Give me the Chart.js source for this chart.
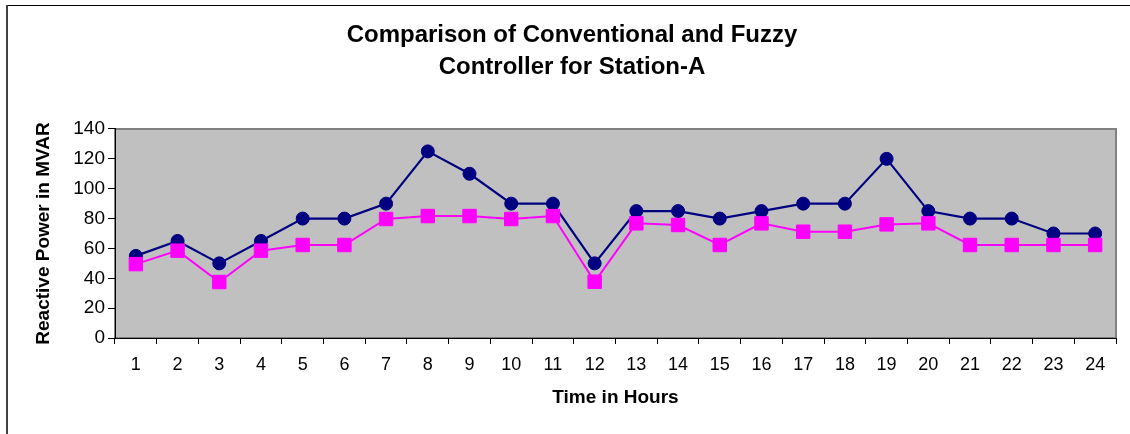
<!DOCTYPE html>
<html>
<head>
<meta charset="utf-8">
<script src="https://cdn.jsdelivr.net/npm/chart.js@4/dist/chart.umd.min.js"></script>
<style>
  html, body { margin: 0; padding: 0; background: #fff; }
  canvas { display: block; }
</style>
</head>
<body>
<canvas id="c" width="1130" height="434"></canvas>
<script>
const hours = ['1','2','3','4','5','6','7','8','9','10','11','12','13','14','15','16','17','18','19','20','21','22','23','24'];
const conventional = [55, 65, 50, 65, 80, 80, 90, 125, 110, 90, 90, 50, 85, 85, 80, 85, 90, 90, 120, 85, 80, 80, 70, 70];
const fuzzy = [49.5, 58.5, 37.5, 58.5, 62.3, 62.3, 79.7, 81.7, 81.7, 79.7, 81.7, 37.7, 76.8, 75.7, 62.3, 76.8, 71.2, 71.2, 76.1, 76.8, 62.3, 62.3, 62.3, 62.3];
const titleLines = ['Comparison of Conventional and Fuzzy', 'Controller for Station-A'];
const xTitle = 'Time in Hours';
const yTitle = 'Reactive Power in MVAR';

const FONT = "'Liberation Sans', Arial, sans-serif";

const framePlugin = {
  id: 'frame',
  afterLayout(chart) {
    if (chart.titleBlock) {
      chart.titleBlock.left += 10;
      chart.titleBlock.right += 10;
    }
  },
  beforeDraw(chart) {
    const ctx = chart.ctx;
    const a = chart.chartArea;
    ctx.save();
    ctx.fillStyle = '#ffffff';
    ctx.fillRect(0, 0, chart.width, chart.height);
    // outer frame
    ctx.fillStyle = '#000000';
    ctx.fillRect(6, 5, chart.width - 6, 1);
    ctx.fillStyle = '#404040';
    ctx.fillRect(6, 5, 2, chart.height - 5);
    // plot area
    ctx.fillStyle = '#c0c0c0';
    ctx.fillRect(a.left, a.top, a.right - a.left, a.bottom - a.top);
    ctx.strokeStyle = '#808080';
    ctx.lineWidth = 2;
    ctx.strokeRect(a.left, a.top, a.right - a.left, a.bottom - a.top);
    ctx.restore();
  }
};

new Chart(document.getElementById('c'), {
  type: 'line',
  data: {
    labels: hours,
    datasets: [
      {
        label: 'Conventional',
        data: conventional,
        borderColor: '#000080',
        backgroundColor: '#000080',
        borderWidth: 2.2,
        pointStyle: 'circle',
        pointRadius: 6.5,
        pointBorderWidth: 1,
        pointBackgroundColor: '#000080',
        pointBorderColor: '#000080',
        tension: 0,
        order: 1
      },
      {
        label: 'Fuzzy',
        data: fuzzy,
        borderColor: '#ff00ff',
        backgroundColor: '#ff00ff',
        borderWidth: 2,
        pointStyle: 'rect',
        pointRadius: 9.5,
        pointBorderWidth: 1,
        pointBackgroundColor: '#ff00ff',
        pointBorderColor: '#ff00ff',
        tension: 0,
        order: 0
      }
    ]
  },
  options: {
    responsive: false,
    animation: false,
    devicePixelRatio: 1,
    layout: { padding: { left: 8, right: 14, top: 0, bottom: 0 } },
    plugins: {
      legend: { display: false },
      tooltip: { enabled: false },
      title: {
        display: true,
        text: titleLines,
        color: '#000',
        font: { family: FONT, size: 24, weight: 'bold', lineHeight: 1.3333 },
        padding: { top: 19, bottom: 46 }
      }
    },
    scales: {
      x: {
        type: 'category',
        offset: true,
        afterFit: (s) => { s.height = 96; },
        grid: { display: true, offset: true, drawOnChartArea: false, drawTicks: true, tickLength: 6, tickColor: '#000', color: '#000' },
        border: { display: true, color: '#000', width: 1 },
        ticks: { color: '#000', font: { family: FONT, size: 18 }, padding: 10, maxRotation: 0, autoSkip: false },
        title: { display: true, text: xTitle, color: '#000', font: { family: FONT, size: 19, weight: 'bold' }, padding: { top: 25, bottom: 25 } }
      },
      y: {
        min: 0,
        max: 140,
        afterFit: (s) => { s.width = 107; },
        grid: { display: true, drawOnChartArea: false, drawTicks: true, tickLength: 7, tickColor: '#000', color: '#000' },
        border: { display: true, color: '#000', width: 1 },
        ticks: { stepSize: 20, color: '#000', font: { family: FONT, size: 19 }, padding: 3 },
        title: { display: true, text: yTitle, color: '#000', font: { family: FONT, size: 19, weight: 'bold' }, padding: { top: 24, bottom: 24 } }
      }
    }
  },
  plugins: [framePlugin]
});
</script>
</body>
</html>
